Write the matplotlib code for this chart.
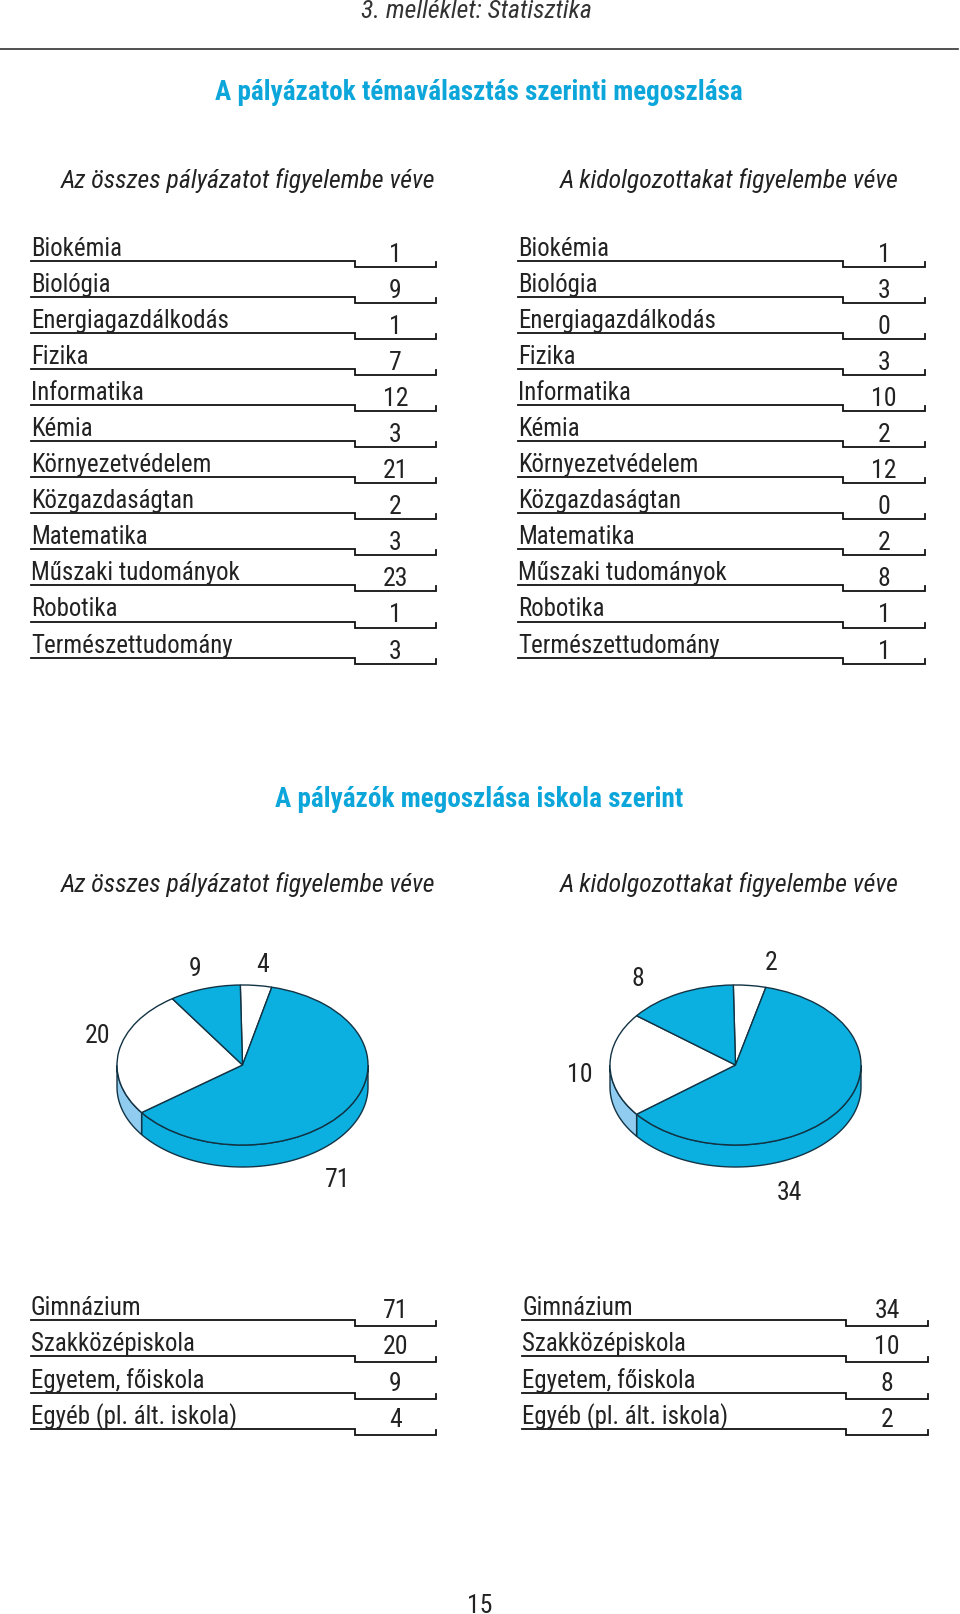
#!/usr/bin/env python

import numpy as np
import matplotlib
matplotlib.use("Agg")
import matplotlib.pyplot as plt

topics=["Biokémia","Biológia","Energiagazdálkodás","Fizika","Informatika","Kémia",
        "Környezetvédelem","Közgazdaságtan","Matematika","Műszaki tudományok",
        "Robotika","Természettudomány"]
topics_all=[1,9,1,7,12,3,21,2,3,23,1,3]
topics_done=[1,3,0,3,10,2,12,0,2,8,1,1]

schools=["Gimnázium","Szakközépiskola","Egyetem, főiskola","Egyéb (pl. ált. iskola)"]
schools_all=[71,20,9,4]
schools_done=[34,10,8,2]

# slice sizes as drawn in the print (degrees, clockwise from the top),
# they do not follow the printed numbers exactly
pie_all_sizes=[14.5,220,92.5,33]
pie_done_sizes=[15,218,76,51]

BLUE="#0bb0e0"
LIGHT="#90cbf0"
TITLE="#0ca6da"
INK="#222222"
W,H=960,1615
plt.rcParams["font.family"]=["Roboto Condensed","Liberation Sans","DejaVu Sans"]

def table(ax,names,values,x0,x1,x2,y0,dy,base_val,size=17.9):
    for i,(n,v) in enumerate(zip(names,values)):
        y=y0+i*dy
        ax.plot([x0,x1,x1,x2,x2],[y,y,y+6,y+6,y+1],color="#111111",lw=1.3,solid_joinstyle="miter")
        ax.text(x0,y-6,n,fontsize=size,color=INK,ha="left",va="baseline")
        ax.text(x1+(x2-x1)*0.5,y+base_val,str(v),fontsize=18.5,color=INK,ha="center",va="baseline")

def pie(fig,sizes,cx,cy,rx=125.5,ry=80,depth=22,start=91):
    xlim=1.06
    ytop,ybot=1.06,1+depth/ry+0.06
    left=cx-xlim*rx
    bottom=H-(cy+ybot*ry)
    ax=fig.add_axes([left/W,bottom/H,2*xlim*rx/W,(ytop+ybot)*ry/H])
    colors=["white",BLUE,"white",BLUE]
    ax.pie(sizes,startangle=start,counterclock=False,colors=colors,
           wedgeprops=dict(edgecolor="#123344",linewidth=1),radius=1,center=(0,0))
    ax.set_aspect("auto")
    ax.set_xlim(-xlim,xlim)
    ax.set_ylim(-ybot,ytop)
    d=depth/ry
    a=start
    for s,c in zip(sizes,colors):
        a1,a2=a,a-s
        a=a2
        lo,hi=max(a2,-180),min(a1,0)
        if hi<=lo:
            continue
        t=np.radians(np.linspace(lo,hi,80))
        xs=np.concatenate([np.cos(t),np.cos(t)[::-1]])
        ys=np.concatenate([np.sin(t),np.sin(t)[::-1]-d])
        rim=BLUE if c==BLUE else LIGHT
        ax.fill(xs,ys,facecolor=rim,edgecolor="#123344",linewidth=1,zorder=0.5)
    return ax

def main():
    fig=plt.figure(figsize=(W/100,H/100),dpi=100)
    ax=fig.add_axes([0,0,1,1])
    ax.set_xlim(0,W)
    ax.set_ylim(H,0)
    ax.axis("off")

    ax.text(476,11,"3. melléklet: Statisztika",fontsize=18.5,style="italic",color="#333333",ha="center",va="center")
    ax.plot([0,958],[49.5,49.5],color="#333333",lw=1.2)
    ax.text(479,93,"A pályázatok témaválasztás szerinti megoszlása",fontsize=19.5,fontweight="bold",color=TITLE,ha="center",va="center")
    ax.text(248,181,"Az összes pályázatot figyelembe véve",fontsize=18.5,style="italic",color=INK,ha="center",va="center")
    ax.text(729,181,"A kidolgozottakat figyelembe véve",fontsize=18.5,style="italic",color=INK,ha="center",va="center")

    table(ax,topics,topics_all,31,355,436,262,36.05,0)
    table(ax,topics,topics_done,518,843,925,262,36.05,0)

    ax.text(479,800,"A pályázók megoszlása iskola szerint",fontsize=19.5,fontweight="bold",color=TITLE,ha="center",va="center")
    ax.text(248,885,"Az összes pályázatot figyelembe véve",fontsize=18.5,style="italic",color=INK,ha="center",va="center")
    ax.text(729,885,"A kidolgozottakat figyelembe véve",fontsize=18.5,style="italic",color=INK,ha="center",va="center")

    pie(fig,pie_all_sizes,242.5,1066)
    pie(fig,pie_done_sizes,735.5,1066)

    for x,y,v in [(338,1180,schools_all[0]),(97,1036,schools_all[1]),(195,969,schools_all[2]),(263,965,schools_all[3])]:
        ax.text(x,y,str(v),fontsize=18.5,color=INK,ha="center",va="center")
    for x,y,v in [(789,1193,schools_done[0]),(580,1075,schools_done[1]),(638,979,schools_done[2]),(771,963,schools_done[3])]:
        ax.text(x,y,str(v),fontsize=18.5,color=INK,ha="center",va="center")

    table(ax,schools,schools_all,31,355,436,1321,36.3,-3)
    table(ax,schools,schools_done,522,846,928,1321,36.3,-3)

    ax.text(480,1606,"15",fontsize=18.5,color=INK,ha="center",va="center")
    fig.savefig("out.png",dpi=100,facecolor="white")

if __name__=="__main__":
    main()
